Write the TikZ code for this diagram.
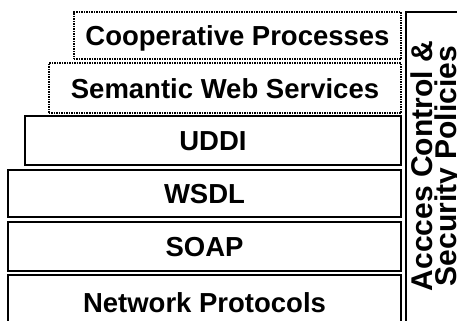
\documentclass[tikz,border=0pt]{standalone}
\usepackage{fontspec}
\setmainfont{Liberation Sans}
\begin{document}
\begin{tikzpicture}[x=1bp,y=-1bp,
  layer/.style={draw, line width=2bp, inner sep=0pt, text height=20bp, text depth=0bp,
    font=\fontsize{27.5bp}{30bp}\selectfont\bfseries},
  dotlayer/.style={layer, dash pattern=on 1.5bp off 1bp},
  sidebox/.style={draw, line width=2bp, inner sep=0pt},
  sidetext/.style={rotate=90, anchor=base, inner sep=0pt, font=\fontsize{30bp}{27bp}\selectfont\bfseries}]
\useasboundingbox (0,0) rectangle (457,320);
\clip (0,0) rectangle (457,320);
\node[dotlayer, minimum width=327bp, minimum height=47bp] (coop) at (237.5,35.5) {Cooperative Processes};
\node[dotlayer, minimum width=352bp, minimum height=50bp] (sem) at (225,88) {Semantic Web Services};
\node[layer, minimum width=376bp, minimum height=49bp] (uddi) at (213,140.5) {UDDI};
\node[layer, minimum width=393bp, minimum height=47bp] (wsdl) at (204.5,193.5) {WSDL};
\node[layer, minimum width=393bp, minimum height=49bp] (soap) at (204.5,246.5) {SOAP};
\node[layer, minimum width=393bp, minimum height=54bp] (net) at (204.5,302) {Network Protocols};
\node[sidebox, minimum width=80bp, minimum height=340bp] (side) at (446,182) {};
\node[sidetext] (acc) at (432,166) {Accces Control \&};
\node[sidetext] (sec) at (456,166) {Security Policies};
\end{tikzpicture}
\end{document}
